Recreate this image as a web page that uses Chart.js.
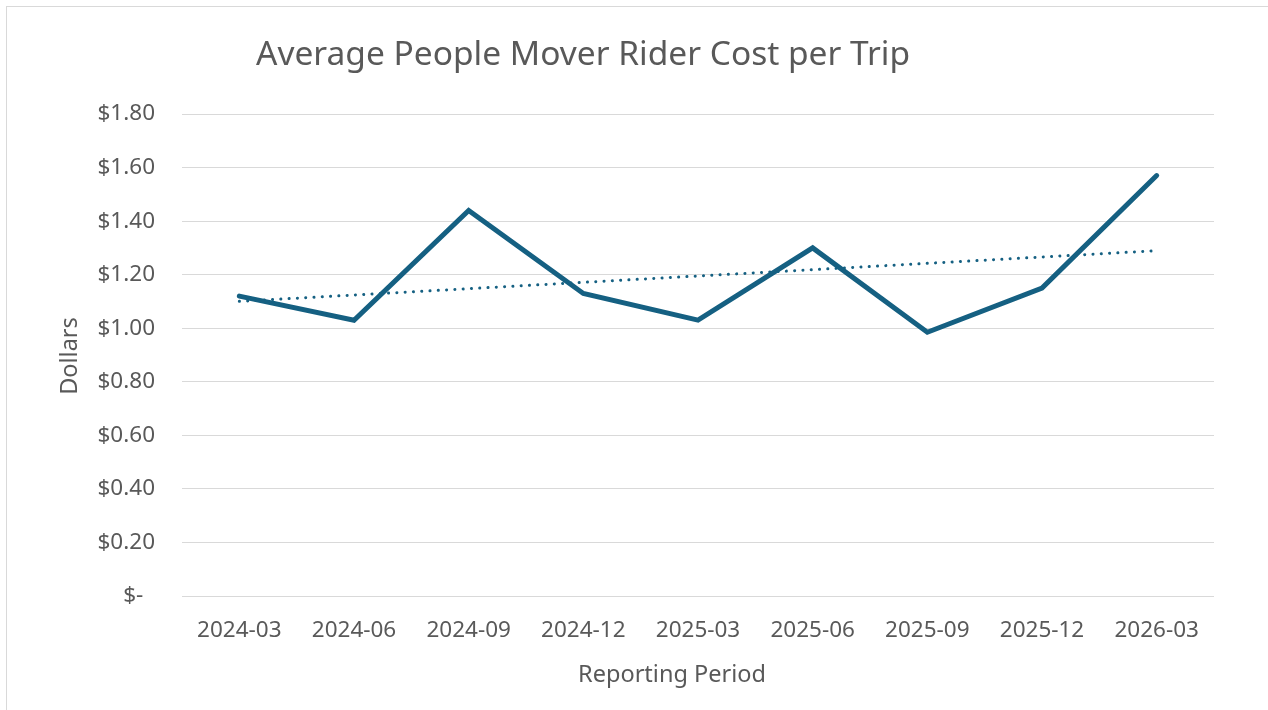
<!DOCTYPE html>
<html>
<head>
<meta charset="utf-8">
<script src="https://cdn.jsdelivr.net/npm/chart.js@4.4.1/dist/chart.umd.min.js"></script>
<style>
  html, body { margin: 0; padding: 0; background: #fff; }
  #wrap { width: 1268px; height: 710px; }
</style>
</head>
<body>
<div id="wrap"><canvas id="cost" width="1268" height="710"></canvas></div>
<script>
// data
const periods = ['2024-03', '2024-06', '2024-09', '2024-12', '2025-03', '2025-06', '2025-09', '2025-12', '2026-03'];
const avgCost = [1.12, 1.03, 1.44, 1.13, 1.03, 1.30, 0.985, 1.15, 1.57];
const yTicks = [0, 0.2, 0.4, 0.6, 0.8, 1.0, 1.2, 1.4, 1.6, 1.8];

// linear trendline (least squares) like excel does
const n = avgCost.length;
const mx = (n - 1) / 2;
const my = avgCost.reduce((a, b) => a + b, 0) / n;
let sxy = 0, sxx = 0;
avgCost.forEach((v, i) => { sxy += (i - mx) * (v - my); sxx += (i - mx) * (i - mx); });
const slope = sxy / sxx;
const trend = avgCost.map((v, i) => my + slope * (i - mx));

const FONT = '"Noto Sans", "Open Sans", sans-serif';
const GREY = '#595959';
const BLUE = '#156082';

// frame + titles
const decor = {
  id: 'decor',
  beforeDraw(chart) {
    const c = chart.ctx;
    c.save();
    c.strokeStyle = '#d9d9d9';
    c.lineWidth = 1;
    c.strokeRect(6.5, 6.5, 1400, 900);
    c.restore();
  },
  afterDraw(chart) {
    const c = chart.ctx;
    c.save();
    c.fillStyle = GREY;
    c.textBaseline = 'alphabetic';
    c.font = '33.5px ' + FONT;
    c.textAlign = 'left';
    c.fillText('Average People Mover Rider Cost per Trip', 256, 65);
    c.font = '23.5px ' + FONT;
    c.textAlign = 'center';
    c.fillText('Reporting Period', 672, 682);
    c.translate(77, 356);
    c.rotate(-Math.PI / 2);
    c.fillText('Dollars', 0, 0);
    c.restore();
  }
};

new Chart(document.getElementById('cost'), {
  type: 'line',
  data: {
    labels: periods,
    datasets: [
      {
        data: avgCost,
        borderColor: BLUE,
        borderWidth: 5,
        borderCapStyle: 'round',
        borderJoinStyle: 'miter',
        pointRadius: 0,
        tension: 0
      },
      {
        data: trend,
        borderColor: BLUE,
        borderWidth: 3,
        borderDash: [0.1, 8.2],
        borderCapStyle: 'round',
        pointRadius: 0,
        tension: 0
      }
    ]
  },
  options: {
    responsive: false,
    animation: false,
    layout: { padding: { top: 114, right: 54, bottom: 0, left: 0 } },
    plugins: {
      legend: { display: false },
      tooltip: { enabled: false }
    },
    scales: {
      x: {
        offset: true,
        grid: { display: false },
        border: { display: false },
        ticks: { color: GREY, font: { family: FONT, size: 22.5 }, padding: 13, maxRotation: 0 },
        afterFit(s) { s.height = 114; }
      },
      y: {
        min: 0,
        max: 1.8,
        afterBuildTicks(s) { s.ticks = yTicks.map(v => ({ value: v })); },
        grid: { color: '#d9d9d9', lineWidth: 1, drawTicks: false },
        border: { display: false },
        ticks: {
          color: GREY,
          font: { family: FONT, size: 22.5 },
          padding: 27,
          callback: v => v === 0 ? '$-  ' : '$' + v.toFixed(2)
        },
        afterFit(s) { s.width = 182; }
      }
    }
  },
  plugins: [decor]
});
</script>
</body>
</html>
